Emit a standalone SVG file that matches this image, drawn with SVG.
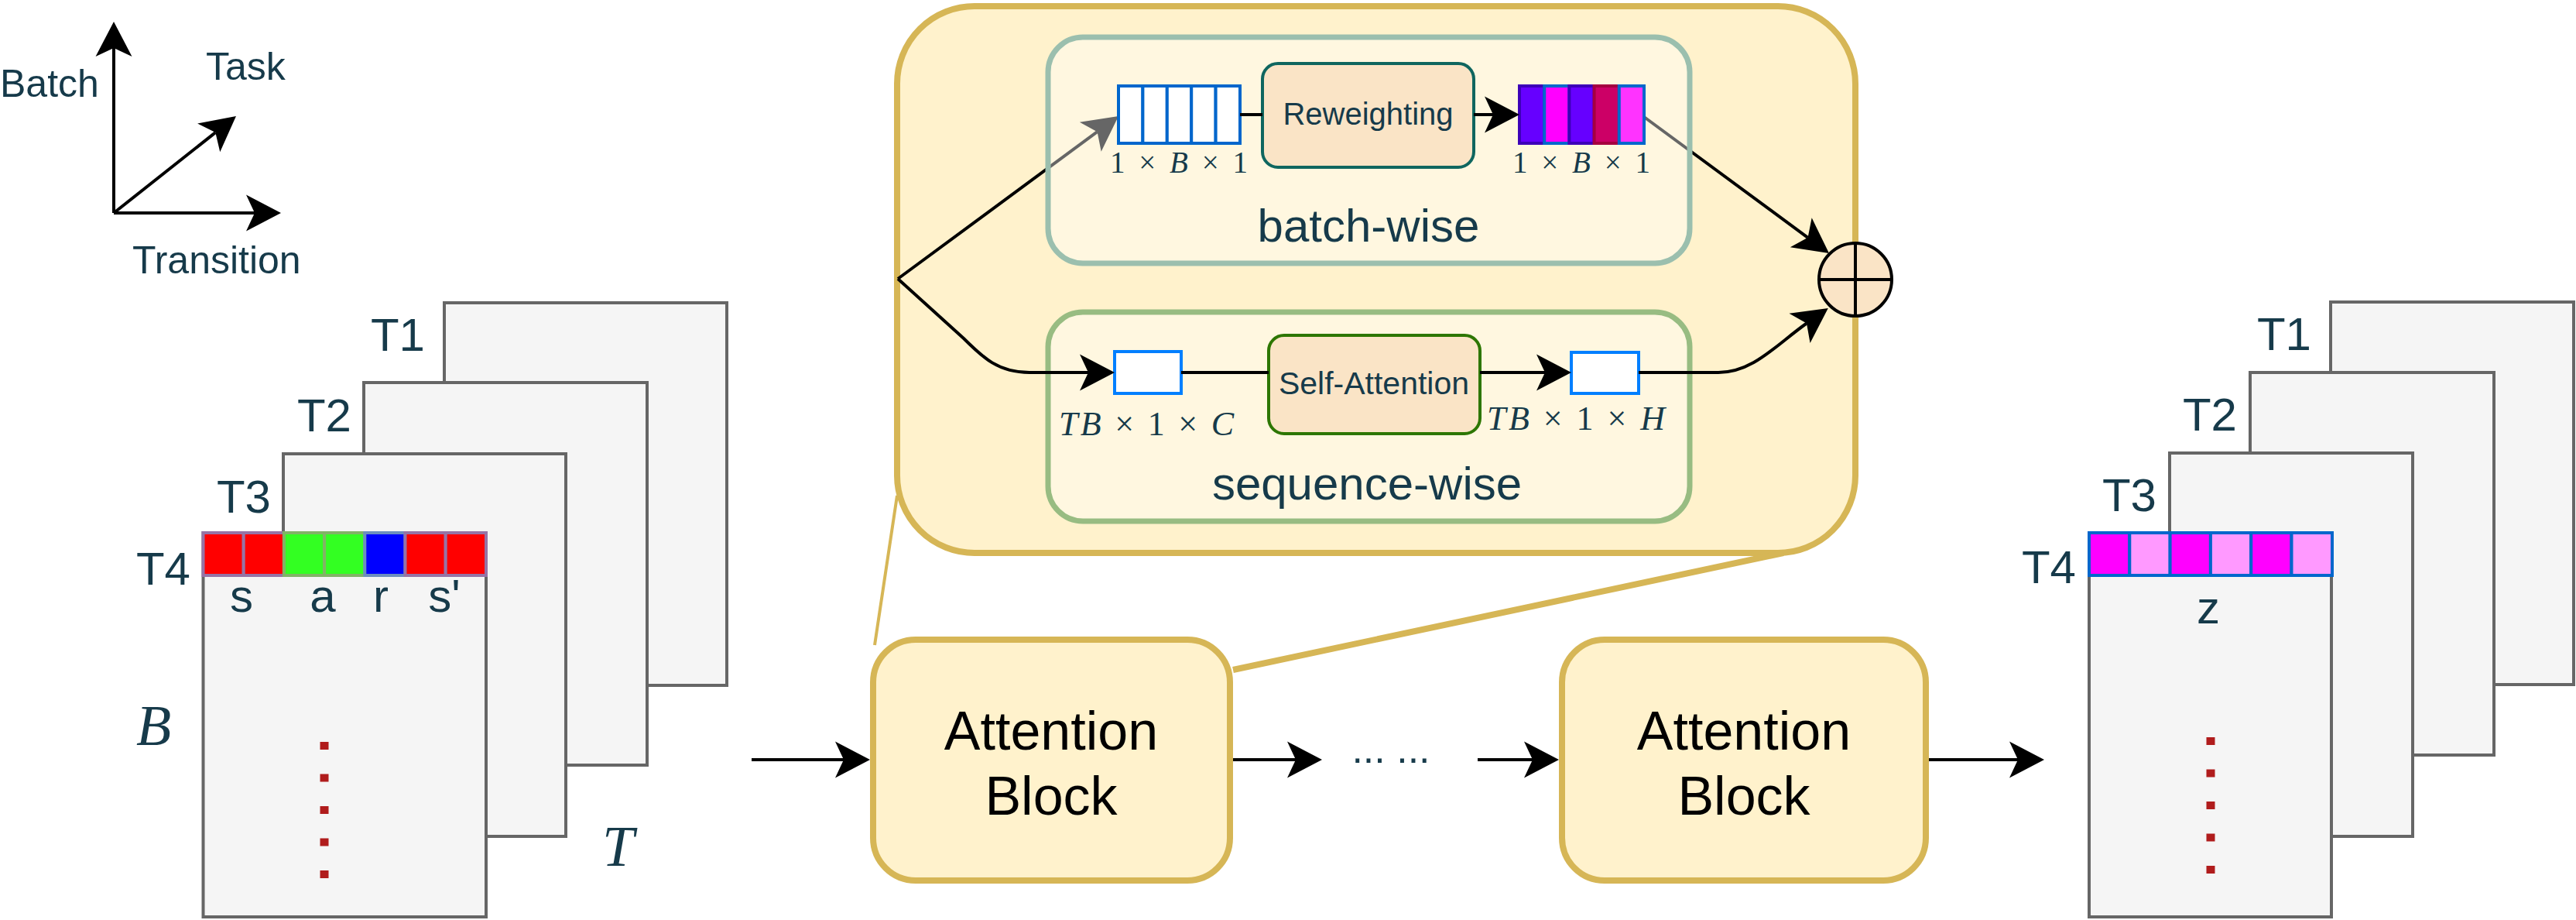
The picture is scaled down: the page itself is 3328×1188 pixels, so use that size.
<svg xmlns="http://www.w3.org/2000/svg" width="3328" height="1188" viewBox="0 0 3328 1188">
<defs>
<marker id="ah" viewBox="-12 -24 48 48" markerWidth="48" markerHeight="48" refX="0" refY="0" orient="auto" markerUnits="userSpaceOnUse" overflow="visible"><path d="M34,0 L-11,-23.5 L0,0 L-11,23.5 Z" fill="#000"/></marker>
</defs>
<style>
.lbl{font-family:"Liberation Sans",Arial,sans-serif;fill:#163A4A}
.math{font-family:"Liberation Serif","DejaVu Serif",serif;fill:#163A4A}
.sheet{fill:#f5f5f5;stroke:#666666;stroke-width:4}
.gold{fill:#fff2cc;stroke:#d6b656}
.op{fill:#FAE4C6;stroke-width:4}
.ln{fill:none;stroke:#000;stroke-width:4}
.dots{fill:none;stroke:#B01C1C;stroke-width:11;stroke-dasharray:10 31.5}
.blk{font-family:"Liberation Sans",Arial,sans-serif;font-size:70px;fill:#000;text-anchor:middle}
</style>
<rect width="3328" height="1188" fill="#ffffff"/>

<g id="axes">
<path class="ln" d="M147,275 L147,62" marker-end="url(#ah)"/>
<path class="ln" d="M147,275 L329,275" marker-end="url(#ah)"/>
<path class="ln" d="M147,275 L278.3,171.1" marker-end="url(#ah)"/>
<text class="lbl" x="0" y="125" font-size="50">Batch</text>
<text class="lbl" x="266" y="103" font-size="50">Task</text>
<text class="lbl" x="171" y="353" font-size="50">Transition</text>
</g>

<g id="input-tensor">
<rect class="sheet" x="574" y="391" width="365" height="494"/>
<rect class="sheet" x="470" y="494" width="366" height="494"/>
<rect class="sheet" x="366" y="586" width="365" height="494"/>
<rect class="sheet" x="262.5" y="688" width="365.5" height="496"/>
<g stroke-width="4">
<rect x="262.5" y="688" width="52.2" height="55" fill="#FF0000" stroke="#9673a6"/>
<rect x="314.7" y="688" width="52.2" height="55" fill="#FF0000" stroke="#9673a6"/>
<rect x="366.9" y="688" width="52.2" height="55" fill="#33FF22" stroke="#82b366"/>
<rect x="419.1" y="688" width="52.2" height="55" fill="#33FF22" stroke="#82b366"/>
<rect x="471.3" y="688" width="52.2" height="55" fill="#0000FF" stroke="#6c8ebf"/>
<rect x="523.5" y="688" width="52.2" height="55" fill="#FF0000" stroke="#9673a6"/>
<rect x="575.7" y="688" width="52.3" height="55" fill="#FF0000" stroke="#9673a6"/>
</g>
<g class="lbl" font-size="60" text-anchor="end">
<text x="549" y="453">T1</text>
<text x="454" y="557">T2</text>
<text x="350" y="662">T3</text>
<text x="246" y="755">T4</text>
</g>
<g class="lbl" font-size="60" text-anchor="middle">
<text x="312" y="790">s</text>
<text x="417" y="790">a</text>
<text x="492" y="790">r</text>
<text x="574" y="790">s'</text>
</g>
<path class="dots" d="M419,958 L419,1134"/>
<text class="math" x="176" y="962" font-size="74" font-style="italic">B</text>
<text class="math" x="778" y="1118" font-size="74" font-style="italic">T</text>
</g>

<g id="output-tensor">
<rect class="sheet" x="3011" y="390" width="314" height="494"/>
<rect class="sheet" x="2907" y="481" width="315" height="494"/>
<rect class="sheet" x="2803" y="585" width="314" height="495"/>
<rect class="sheet" x="2699" y="689" width="313" height="495"/>
<g stroke="#0066CC" stroke-width="4">
<rect x="2699" y="688" width="52.3" height="55" fill="#FF00FF"/>
<rect x="2751.3" y="688" width="52.3" height="55" fill="#FF99FF"/>
<rect x="2803.6" y="688" width="52.3" height="55" fill="#FF00FF"/>
<rect x="2855.9" y="688" width="52.3" height="55" fill="#FF99FF"/>
<rect x="2908.2" y="688" width="52.3" height="55" fill="#FF00FF"/>
<rect x="2960.5" y="688" width="52.5" height="55" fill="#FF99FF"/>
</g>
<g class="lbl" font-size="60" text-anchor="end">
<text x="2986" y="452">T1</text>
<text x="2890" y="556">T2</text>
<text x="2786" y="660">T3</text>
<text x="2682" y="753">T4</text>
</g>
<text class="lbl" x="2853" y="805" font-size="60" text-anchor="middle">z</text>
<path class="dots" d="M2856,952 L2856,1129" stroke-dasharray="10 31.75"/>
</g>

<g id="attention-detail">
<rect class="gold" x="1159" y="8" width="1238" height="706" rx="100" ry="100" stroke-width="8"/>
</g>

<g id="zoom-lines" stroke="#d6b656" fill="none">
<path d="M1159,640 L1130,833" stroke-width="4"/>
<path d="M2304,714 L1593,865" stroke-width="8"/>
</g>

<g id="connectors-under">
<path class="ln" d="M1160,360 L1417.6,170.2" marker-end="url(#ah)"/>
<path class="ln" d="M2124,151 L2335.6,306.8" marker-end="url(#ah)"/>
</g>

<g id="batch-wise">
<rect x="1354" y="48" width="829" height="292" rx="45" ry="45" fill="#ffffff" fill-opacity="0.4" stroke="#9BBFAE" stroke-width="7"/>
<text class="lbl" x="1768" y="312" font-size="60" text-anchor="middle">batch-wise</text>
</g>
<g id="sequence-wise">
<rect x="1354" y="403" width="829" height="270" rx="45" ry="45" fill="#ffffff" fill-opacity="0.4" stroke="#98BC82" stroke-width="7"/>
<text class="lbl" x="1766" y="645" font-size="60" text-anchor="middle">sequence-wise</text>
</g>

<g id="batch-input" stroke="#0066CC" stroke-width="4" fill="#ffffff">
<rect x="1445" y="111" width="31.4" height="74"/>
<rect x="1476.4" y="111" width="31.4" height="74"/>
<rect x="1507.8" y="111" width="31.4" height="74"/>
<rect x="1539.2" y="111" width="31.4" height="74"/>
<rect x="1570.6" y="111" width="31.4" height="74"/>
</g>
<text class="math" x="1523" y="223" font-size="39" text-anchor="middle" textLength="178" lengthAdjust="spacing">1 × <tspan font-style="italic">B</tspan> × 1</text>

<g id="reweighting">
<rect class="op" x="1631" y="82" width="273" height="134" rx="20" ry="20" stroke="#0F665F"/>
<text class="lbl" x="1767.5" y="161" font-size="40" text-anchor="middle">Reweighting</text>
</g>

<g id="batch-output" stroke-width="4">
<rect x="1963" y="111" width="32.2" height="74" fill="#6600FF" stroke="#3D00B8"/>
<rect x="1995.2" y="111" width="32.2" height="74" fill="#FF00FF" stroke="#0066CC"/>
<rect x="2027.4" y="111" width="32.2" height="74" fill="#6600FF" stroke="#3D00B8"/>
<rect x="2059.6" y="111" width="32.2" height="74" fill="#CC0066" stroke="#A50040"/>
<rect x="2091.8" y="111" width="32.2" height="74" fill="#FF33FF" stroke="#0066CC"/>
</g>
<text class="math" x="2043" y="223" font-size="39" text-anchor="middle" textLength="178" lengthAdjust="spacing">1 × <tspan font-style="italic">B</tspan> × 1</text>

<g id="seq-input">
<rect x="1440" y="454" width="86" height="54" fill="#ffffff" stroke="#007FFF" stroke-width="4"/>
</g>
<text class="math" x="1481" y="562" font-size="44" text-anchor="middle" textLength="226" lengthAdjust="spacing"><tspan font-style="italic">TB</tspan> × 1 × <tspan font-style="italic">C</tspan></text>

<g id="self-attention">
<rect class="op" x="1639" y="433" width="273" height="127" rx="20" ry="20" stroke="#2D7600"/>
<text class="lbl" x="1775" y="509" font-size="41" text-anchor="middle">Self-Attention</text>
</g>

<g id="seq-output">
<rect x="2030" y="455" width="87" height="53" fill="#ffffff" stroke="#007FFF" stroke-width="4"/>
</g>
<text class="math" x="2036" y="555" font-size="44" text-anchor="middle" textLength="230" lengthAdjust="spacing"><tspan font-style="italic">TB</tspan> × 1 × <tspan font-style="italic">H</tspan></text>

<g id="connectors">
<path class="ln" d="M1602,148 L1631,148"/>
<path class="ln" d="M1904,148 L1929,148" marker-end="url(#ah)"/>
<path class="ln" d="M1160,360 L1245,437 C1270,462 1290,481 1330,481 L1406,481" marker-end="url(#ah)"/>
<path class="ln" d="M1526,481 L1639,481"/>
<path class="ln" d="M1912,481 L1996,481" marker-end="url(#ah)"/>
<path class="ln" d="M2117,481 L2220,481 C2265,481 2295,445 2334,417.5" marker-end="url(#ah)"/>
<path class="ln" d="M971,981 L1090,981" marker-end="url(#ah)"/>
<path class="ln" d="M1593,981 L1674,981" marker-end="url(#ah)"/>
<path class="ln" d="M1909,981 L1980,981" marker-end="url(#ah)"/>
<path class="ln" d="M2492,981 L2607,981" marker-end="url(#ah)"/>
</g>

<g id="sum">
<circle cx="2397" cy="361" r="47" fill="#FAE4C6" stroke="#000" stroke-width="4"/>
<path d="M2350,361 L2444,361 M2397,314 L2397,408" stroke="#000" stroke-width="4"/>
</g>

<g id="attention-block-1">
<rect class="gold" x="1128" y="826" width="461" height="311" rx="55" ry="55" stroke-width="8"/>
<text class="blk" x="1358" y="968">Attention</text>
<text class="blk" x="1358" y="1052">Block</text>
</g>
<text class="lbl" x="1797" y="985" font-size="52" text-anchor="middle">... ...</text>
<g id="attention-block-2">
<rect class="gold" x="2018" y="826" width="470" height="311" rx="55" ry="55" stroke-width="8"/>
<text class="blk" x="2253" y="968">Attention</text>
<text class="blk" x="2253" y="1052">Block</text>
</g>
</svg>
